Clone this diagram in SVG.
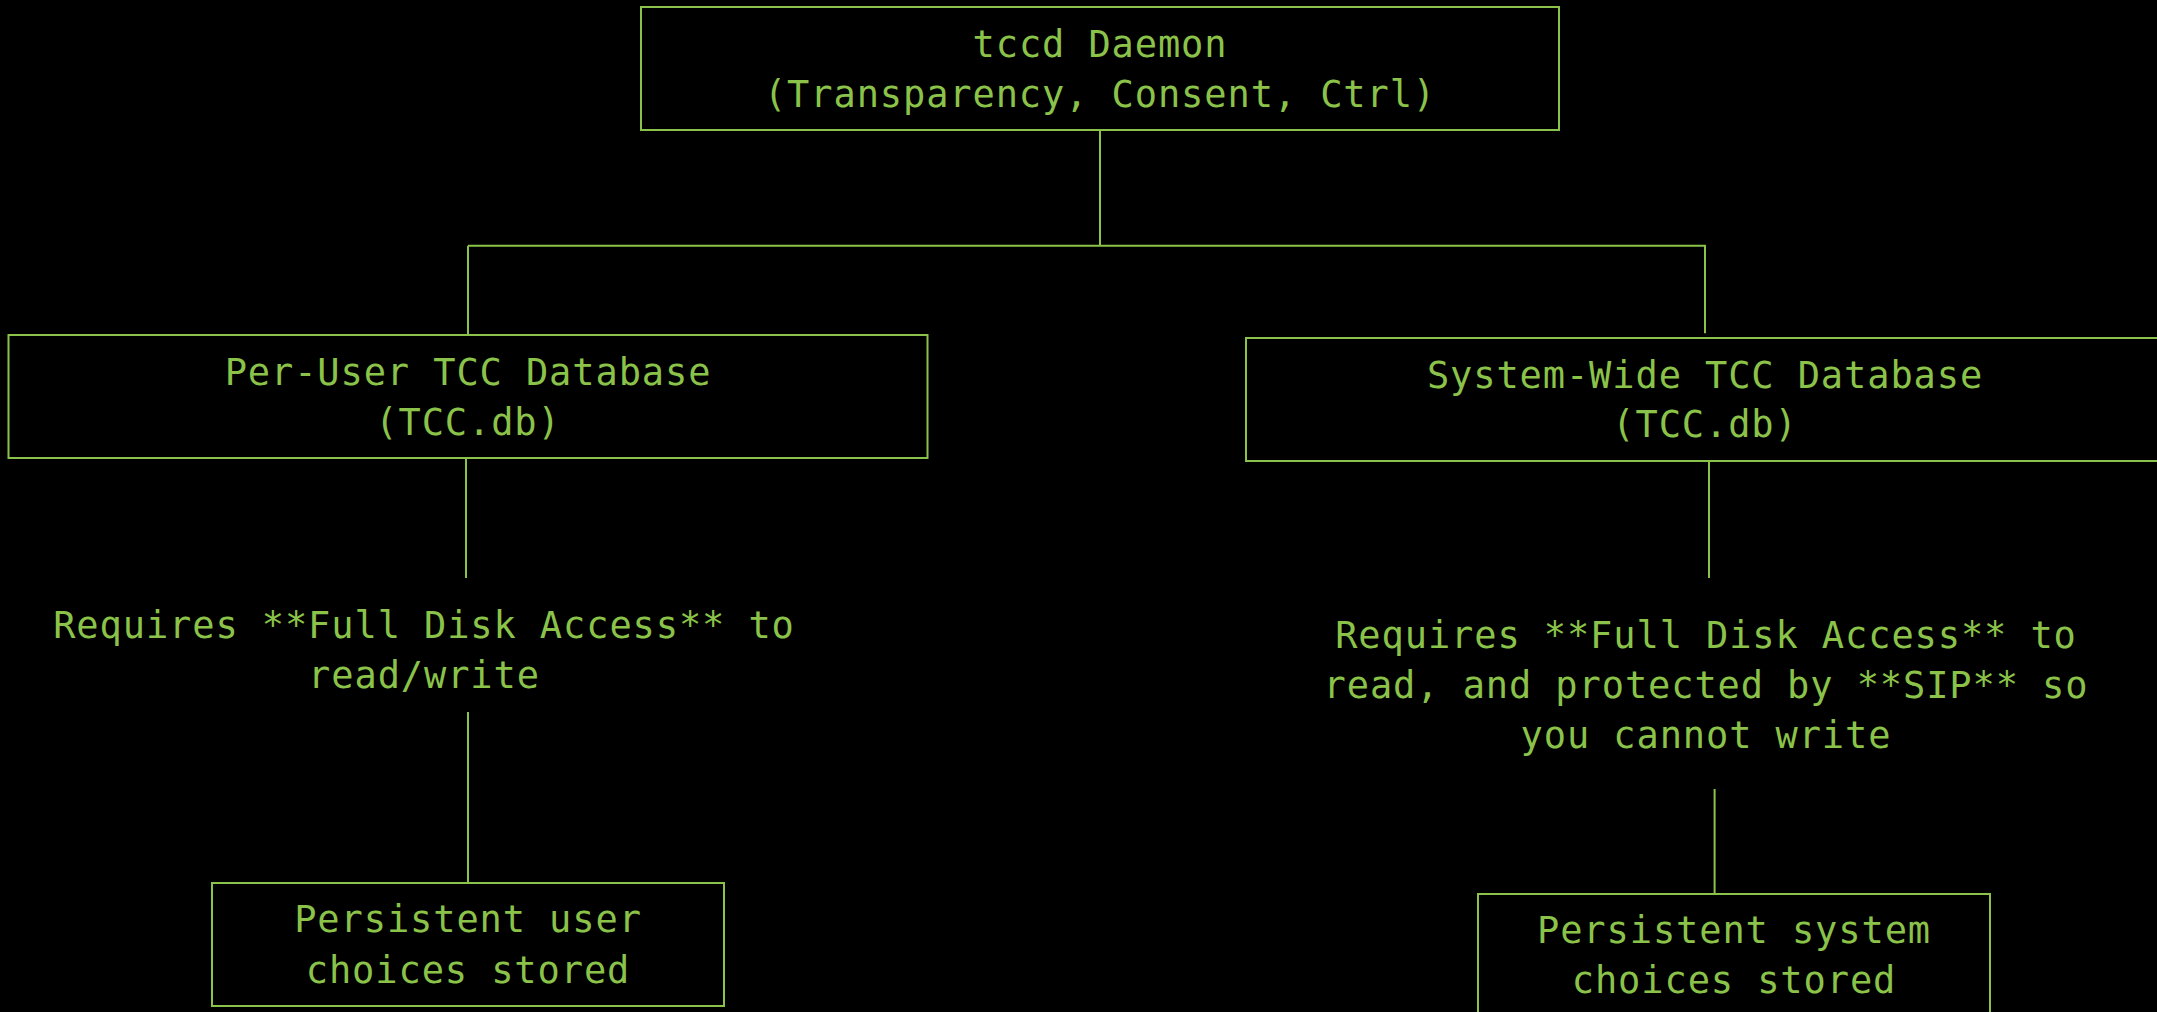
<svg xmlns="http://www.w3.org/2000/svg" width="2157" height="1012" viewBox="0 0 2157 1012">
  <style>
    .bg { fill: #000000; }
    .box { fill: #000000; stroke: #8BC34A; stroke-width: 2; }
    .edge { fill: none; stroke: #8BC34A; stroke-width: 2; }
    .lbl { fill: #8BC34A; font-family: "DejaVu Sans Mono", "Liberation Mono", monospace; font-size: 37px; letter-spacing: 0.9px; text-anchor: middle; }
  </style>
  <rect class="bg" x="0" y="0" width="2157" height="1012"/>

  <!-- connectors -->
  <g id="connectors">
    <path class="edge" d="M1100 130 V245.7"/>
    <path class="edge" d="M468 245.7 H1705 V333.3"/>
    <path class="edge" d="M468 245.7 V335"/>
    <path class="edge" d="M466 458 V578"/>
    <path class="edge" d="M468 712 V882"/>
    <path class="edge" d="M1709 458 V578"/>
    <path class="edge" d="M1714.6 789 V894"/>
  </g>

  <!-- daemon -->
  <g id="tccd">
    <rect class="box" x="641" y="7" width="918" height="123"/>
    <text class="lbl" x="1100" y="57">tccd Daemon</text>
    <text class="lbl" x="1100" y="107">(Transparency, Consent, Ctrl)</text>
  </g>

  <!-- per-user database -->
  <g id="user-db">
    <rect class="box" x="8.5" y="335" width="919" height="123"/>
    <text class="lbl" x="468" y="385">Per-User TCC Database</text>
    <text class="lbl" x="468" y="435">(TCC.db)</text>
  </g>

  <g id="user-access">
    <text class="lbl" x="424" y="638">Requires **Full Disk Access** to</text>
    <text class="lbl" x="424" y="688">read/write</text>
  </g>

  <g id="user-choices">
    <rect class="box" x="212" y="883" width="512" height="123"/>
    <text class="lbl" x="468" y="932">Persistent user</text>
    <text class="lbl" x="468" y="983">choices stored</text>
  </g>

  <!-- system-wide database -->
  <g id="system-db">
    <rect class="box" x="1246" y="338" width="950" height="123"/>
    <text class="lbl" x="1705" y="388">System-Wide TCC Database</text>
    <text class="lbl" x="1705" y="437">(TCC.db)</text>
  </g>

  <g id="system-access">
    <text class="lbl" x="1706" y="648">Requires **Full Disk Access** to</text>
    <text class="lbl" x="1706" y="698">read, and protected by **SIP** so</text>
    <text class="lbl" x="1706" y="748">you cannot write</text>
  </g>

  <g id="system-choices">
    <rect class="box" x="1478" y="894" width="512" height="140"/>
    <text class="lbl" x="1734" y="943">Persistent system</text>
    <text class="lbl" x="1734" y="993">choices stored</text>
  </g>
</svg>
